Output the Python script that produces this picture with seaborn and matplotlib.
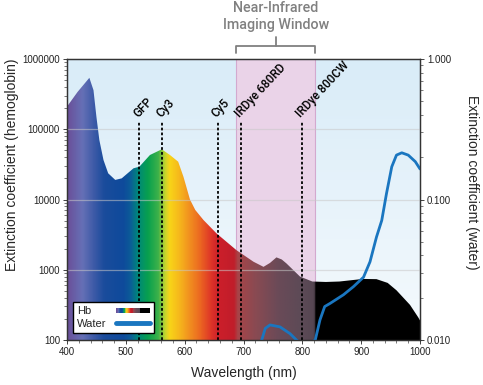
import numpy as np
import matplotlib
matplotlib.use("Agg")
import matplotlib.pyplot as plt
import matplotlib.ticker as mticker
import seaborn as sns
from matplotlib.colors import LinearSegmentedColormap
from matplotlib.legend_handler import HandlerBase
from matplotlib.patches import Rectangle
from matplotlib.lines import Line2D

# hemoglobin extinction (left axis)
hb_nm = [400, 418, 438, 445, 450, 455, 462, 470, 482, 493, 513, 523, 541, 561, 575,
         589, 598, 609, 618, 632, 654, 688, 717, 734, 745, 756, 765, 773, 796, 817,
         840, 863, 903, 926, 945, 960, 983, 997, 1000]
hb_ext = [210000, 340000, 540000, 360000, 150000, 70000, 36500, 23600, 19000, 20000,
          27800, 29300, 43000, 51800, 43000, 34500, 21000, 10000, 7100, 5100, 3300,
          1900, 1300, 1100, 1250, 1500, 1400, 1230, 800, 680, 670, 680, 740, 735,
          650, 510, 316, 210, 190]

# water extinction (right axis)
water_nm = [725, 731, 737, 745, 762, 779, 790, 800, 812, 822, 830, 838, 847, 870, 887,
            904, 915, 926, 935, 943, 952, 960, 969, 980, 992, 1000]
water_ext = [0.0085, 0.0100, 0.0121, 0.0128, 0.0124, 0.0111, 0.0100, 0.0093, 0.0093,
             0.0100, 0.0139, 0.0173, 0.0182, 0.021, 0.024, 0.028, 0.036, 0.054, 0.071,
             0.11, 0.171, 0.207, 0.215, 0.207, 0.186, 0.165]

# dye emission markers
dye_names = ["GFP", "Cy3", "Cy5", "IRDye 680RD", "IRDye 800CW"]
dye_nm = [523, 562, 656, 696, 800]
dye_top = 131000

nir_window = (688, 822)

left_ticks = [100, 1000, 10000, 100000, 1000000]
left_labels = ["100", "1000", "10000", "100000", "1000000"]
right_ticks = [0.01, 0.1, 1.0]
right_labels = ["0.010", "0.100", "1.000"]

# spectrum colours along wavelength
spec_nm = [400, 425, 445, 462, 495, 507, 520, 537, 555, 566, 574, 590, 605, 625, 645,
           658, 684, 690, 720, 760, 800, 821, 822, 1000]
spec_col = ["#6a5099", "#6670b6", "#3d5aa7", "#1a4c9c", "#0e4a9b", "#0b5c98", "#00887a",
            "#08a04e", "#3fb24a", "#c4d52e", "#f8d518", "#f6b81c", "#f2961f", "#ec6a21",
            "#de3428", "#cc1f2a", "#c01d2a", "#a84448", "#8a4a52", "#6a4a58", "#5c4a56",
            "#564652", "#000000", "#000000"]
spec_cmap = LinearSegmentedColormap.from_list(
    "spec", [((n - 400) / 600, c) for n, c in zip(spec_nm, spec_col)])
bg_cmap = LinearSegmentedColormap.from_list("bg", ["#f5fafd", "#d9ecf8"])

water_color = "#1a76c0"

sns.set_style("ticks")
plt.rcParams["font.family"] = ["Liberation Sans", "DejaVu Sans"]


class GradientHandler(HandlerBase):
    def create_artists(self, legend, orig_handle, xdescent, ydescent, width, height,
                       fontsize, trans):
        n = 60
        arts = []
        for i in range(n):
            r = Rectangle((-xdescent + i * width / n, -ydescent + height * 0.22),
                          width / n + 0.3, height * 0.56,
                          facecolor=spec_cmap(i / (n - 1)), edgecolor="none",
                          transform=trans)
            arts.append(r)
        return arts


fig = plt.figure(figsize=(4.83, 3.85), dpi=100)
ax = fig.add_axes([67 / 483, 1 - 340 / 385, 353 / 483, 281 / 385])
ax.set_yscale("log")

# background
bg = np.linspace(0, 1, 256).reshape(-1, 1)
ax.imshow(bg, extent=[0, 1, 0, 1], transform=ax.transAxes, aspect="auto",
          cmap=bg_cmap, origin="lower", zorder=0)

# NIR window
ax.axvspan(nir_window[0], nir_window[1], color="#ead3e8", zorder=1, lw=0)
for edge in nir_window:
    ax.axvline(edge, color="#d3a9cf", lw=0.8, zorder=1)

# hemoglobin fill with spectrum gradient
poly = ax.fill_between(hb_nm, hb_ext, 100, facecolor="none", edgecolor="none")
grad = np.linspace(0, 1, 1200).reshape(1, -1)
im = ax.imshow(grad, extent=[0, 1, 0, 1], transform=ax.transAxes, aspect="auto",
               cmap=spec_cmap, zorder=2, interpolation="bilinear")
im.set_clip_path(poly.get_paths()[0], transform=ax.transData)

for t in left_ticks[1:-1]:
    ax.axhline(t, color="#c8c8c8", alpha=0.55, lw=0.9, zorder=3)

# dye lines + labels
for name, nm in zip(dye_names, dye_nm):
    ax.plot([nm, nm], [100, dye_top], color="black", lw=1.3,
            ls=(0, (1.5, 1.2)), zorder=4)
    ax.text(nm - 2.5, dye_top * 1.09, name, rotation=47, rotation_mode="anchor",
            ha="left", va="baseline", fontsize=8.5, family="Roboto",
            fontweight="medium", color="black", zorder=5)

ax.set_xlim(400, 1000)
ax.set_ylim(100, 1000000)
ax.set_yticks(left_ticks)
ax.set_yticklabels(left_labels)
ax.xaxis.set_major_locator(mticker.MultipleLocator(100))
ax.xaxis.set_minor_locator(mticker.MultipleLocator(20))
ax.yaxis.set_minor_locator(mticker.LogLocator(subs=range(2, 10)))
ax.yaxis.set_minor_formatter(mticker.NullFormatter())

# water on right axis
ax2 = ax.twinx()
ax2.set_yscale("log")
sns.lineplot(x=water_nm, y=water_ext, ax=ax2, color=water_color, lw=2, sort=False)
ax2.set_ylim(0.01, 1.0)
ax2.set_yticks(right_ticks)
ax2.set_yticklabels(right_labels)
ax2.yaxis.set_minor_locator(mticker.LogLocator(subs=range(2, 10)))
ax2.yaxis.set_minor_formatter(mticker.NullFormatter())
ax2.set_xlim(400, 1000)

for a in (ax, ax2):
    a.tick_params(which="major", length=3, width=0.6, labelsize=7, pad=2,
                  colors="#222222")
    a.tick_params(which="minor", length=2, width=0.5, colors="#444444")
    for s in a.spines.values():
        s.set_color("#333333")
        s.set_linewidth(0.9)

handles = [Rectangle((0, 0), 1, 1), Line2D([0], [0], color=water_color, lw=3.5)]
leg = ax2.legend(handles, ["Hb", "Water"], loc="lower left",
                 bbox_to_anchor=(0.017, 0.025), borderaxespad=0, markerfirst=False,
                 handler_map={Rectangle: GradientHandler()}, fontsize=8,
                 handlelength=3.0, handletextpad=0.9, labelspacing=0.25,
                 borderpad=0.35, fancybox=False, framealpha=1, edgecolor="black")
leg.get_frame().set_linewidth(1.0)

# left-align the labels while keeping the bars lined up on the right
fig.canvas.draw()
label_w = [t.get_window_extent().width for t in leg.get_texts()]
items = leg._legend_handle_box.get_children()[0].get_children()
for item, w in zip(items, label_w):
    item.sep += (max(label_w) - w) * 72 / fig.dpi

# labels
fig.text(244 / 483, 1 - 373 / 385, "Wavelength (nm)", ha="center", va="center",
         fontsize=10)
fig.text(12 / 483, 1 - 165 / 385, "Extinction coefficient (hemoglobin)",
         rotation=90, ha="center", va="center", fontsize=10)
fig.text(472 / 483, 1 - 182 / 385, "Extinction coefficient (water)",
         rotation=270, ha="center", va="center", fontsize=10)

# NIR bracket and title
fig.text(276 / 483, 1 - 16.5 / 385, "Near-Infrared\nImaging Window", ha="center",
         va="center", multialignment="center", fontsize=10.3, family="Roboto",
         fontweight="medium", color="#808080", linespacing=1.25)
bx = [nir_window[0], nir_window[0], nir_window[1], nir_window[1]]
by = [1.021, 1.046, 1.046, 1.021]
btr = ax.get_xaxis_transform()
ax.plot(bx, by, color="#808080", lw=1.3, transform=btr, clip_on=False)
mid = (nir_window[0] + nir_window[1]) / 2
ax.plot([mid, mid], [1.046, 1.078], color="#808080", lw=1.3, transform=btr,
        clip_on=False)

fig.savefig("out.png", dpi=100)
